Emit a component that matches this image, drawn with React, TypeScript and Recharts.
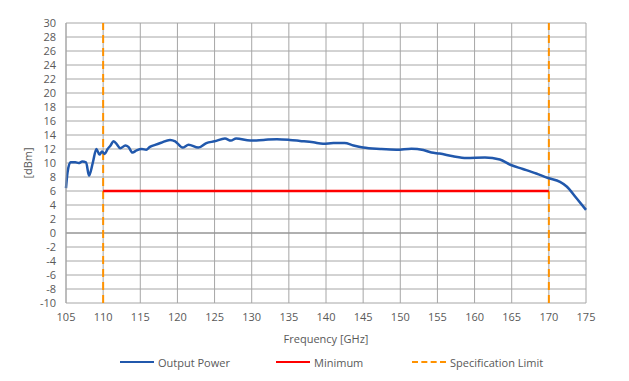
import { LineChart, Line, XAxis, YAxis, CartesianGrid, ReferenceLine } from 'recharts';

// Output power curve
const frequencyGHz = [
  105.0, 105.2, 105.6, 106.25, 106.7, 107.2, 107.7, 108.1, 108.6, 109.1, 109.5, 109.85,
  110.2, 110.6, 111.0, 111.4, 111.9, 112.3, 113.0, 113.4, 113.95, 114.5, 115.2, 115.8,
  116.3, 117.0, 117.8, 119.0, 119.7, 120.7, 121.5, 122.8, 123.9, 125.0, 126.4, 127.2,
  127.9, 129.8, 131.6, 133.4, 135.1, 136.5, 138.3, 139.6, 141.0, 142.5, 143.7, 145.0,
  147.3, 149.5, 151.5, 153.1, 154.2, 155.3, 157.1, 158.9, 161.4, 163.4, 164.8, 166.5,
  168.3, 169.9, 171.5, 172.4, 173.7, 175.0,
];
const outputPowerDbm = [
  6.4, 8.6, 10.1, 10.1, 10.0, 10.2, 10.1, 8.2, 10.0, 12.0, 11.2, 11.65,
  11.3, 12.0, 12.5, 13.1, 12.6, 12.1, 12.5, 12.3, 11.5, 11.8, 12.0, 11.9,
  12.3, 12.6, 12.9, 13.3, 13.1, 12.2, 12.6, 12.2, 12.85, 13.1, 13.5, 13.2,
  13.5, 13.2, 13.3, 13.4, 13.3, 13.15, 12.95, 12.75, 12.85, 12.85, 12.5, 12.2,
  12.0, 11.9, 12.05, 11.85, 11.5, 11.35, 10.95, 10.7, 10.8, 10.5, 9.75, 9.15,
  8.5, 7.85, 7.3, 6.65, 5.0, 3.3,
];

const minimumRangeGHz = [110, 170];
const minimumDbm = 6;
const specLimitsGHz = [110, 170];

const xTicks = [105, 110, 115, 120, 125, 130, 135, 140, 145, 150, 155, 160, 165, 170, 175];
const yTicks = [-10, -8, -6, -4, -2, 0, 2, 4, 6, 8, 10, 12, 14, 16, 18, 20, 22, 24, 26, 28, 30];

const powerData = frequencyGHz.map((f, i) => ({ f, power: outputPowerDbm[i] }));
const minimumData = minimumRangeGHz.map((f) => ({ f, min: minimumDbm }));

const FONT = '"Open Sans", sans-serif';
const TEXT = '#595959';
const BLUE = '#2158AC';
const RED = '#FF0000';
const ORANGE = '#FF9200';
const GRID = '#A6A6A6';

const legendItems = [
  { label: 'Output Power', color: BLUE, dashed: false, left: 120 },
  { label: 'Minimum', color: RED, dashed: false, left: 276 },
  { label: 'Specification Limit', color: ORANGE, dashed: true, left: 412 },
];

export default function App() {
  return (
    <div style={{ position: 'absolute', left: 0, top: 0, width: 629, height: 381, background: '#fff', fontFamily: FONT }}>
      <LineChart width={629} height={381} margin={{ top: 23, right: 43, left: 0, bottom: 0 }}>
        <CartesianGrid stroke={GRID} strokeWidth={1} />
        <XAxis
          type="number"
          dataKey="f"
          domain={[105, 175]}
          ticks={xTicks}
          interval={0}
          axisLine={false}
          tickLine={false}
          tickSize={0}
          tickMargin={10}
          height={78}
          tick={{ fill: TEXT, fontSize: 11, fontFamily: FONT }}
          label={{ value: 'Frequency [GHz]', position: 'center', dy: -3, fill: TEXT, fontSize: 11, fontFamily: FONT }}
        />
        <YAxis
          type="number"
          domain={[-10, 30]}
          ticks={yTicks}
          interval={0}
          width={66}
          axisLine={{ stroke: GRID }}
          tickLine={false}
          tickSize={0}
          tickMargin={10}
          tick={{ fill: TEXT, fontSize: 11, fontFamily: FONT }}
          label={{ value: '[dBm]', angle: -90, position: 'center', dx: -5, fill: TEXT, fontSize: 11, fontFamily: FONT }}
        />
        <ReferenceLine y={0} stroke="#8C8C8C" strokeWidth={1} />
        {specLimitsGHz.map((x) => (
          <ReferenceLine key={x} x={x} stroke={ORANGE} strokeWidth={2} strokeDasharray="8 5" />
        ))}
        <Line
          data={minimumData}
          dataKey="min"
          type="linear"
          stroke={RED}
          strokeWidth={2.5}
          dot={false}
          isAnimationActive={false}
        />
        <Line
          data={powerData}
          dataKey="power"
          type="monotone"
          stroke={BLUE}
          strokeWidth={2.5}
          dot={false}
          isAnimationActive={false}
        />
      </LineChart>
      {legendItems.map((it) => (
        <div
          key={it.label}
          style={{ position: 'absolute', left: it.left, top: 354, height: 16, display: 'flex', alignItems: 'center', fontSize: 11, color: TEXT }}
        >
          <div style={{ width: 34, height: 0, borderTop: `2.5px ${it.dashed ? 'dashed' : 'solid'} ${it.color}`, marginRight: 4 }} />
          <span>{it.label}</span>
        </div>
      ))}
    </div>
  );
}
